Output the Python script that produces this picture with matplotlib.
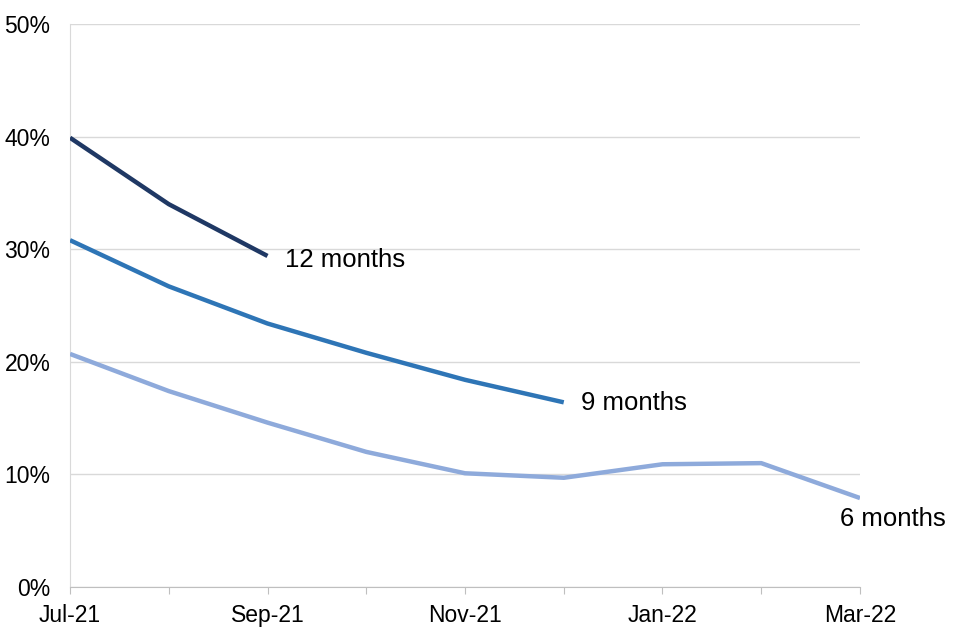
import matplotlib
matplotlib.use("Agg")
import matplotlib.pyplot as plt
from matplotlib.ticker import PercentFormatter

plt.rcParams['font.family'] = ['Liberation Sans', 'DejaVu Sans']

months = ['Jul-21', 'Aug-21', 'Sep-21', 'Oct-21', 'Nov-21', 'Dec-21', 'Jan-22', 'Feb-22', 'Mar-22']
six_months = [20.7, 17.4, 14.6, 12.0, 10.1, 9.7, 10.9, 11.0, 7.9]
nine_months = [30.8, 26.7, 23.4, 20.8, 18.4, 16.4]
twelve_months = [39.9, 34.0, 29.4]

series = [
    ('6 months', six_months, '#8eaadb'),
    ('9 months', nine_months, '#2e75b6'),
    ('12 months', twelve_months, '#1f3864'),
]

fig = plt.figure(figsize=(9.6, 6.4), dpi=100)
ax = fig.add_axes([70/960, 1 - 587/640, 790/960, 563/640])

x = list(range(len(months)))
for name, vals, col in series:
    ax.plot(x[:len(vals)], vals, color=col, lw=3.2, solid_capstyle='butt', zorder=3)

# end labels, placed right of / under the last point
ax.text(len(twelve_months) - 1 + 0.18, twelve_months[-1] - 0.4, '12 months', fontsize=18.5, va='center', ha='left')
ax.text(len(nine_months) - 1 + 0.17, nine_months[-1] - 0.1, '9 months', fontsize=18.5, va='center', ha='left')
ax.text(len(six_months) - 1 - 0.2, six_months[-1] - 1.9, '6 months', fontsize=18.5, va='center', ha='left')

ax.set_xlim(0, len(months) - 1)
ax.set_ylim(0, 50)
ax.set_yticks(range(0, 51, 10))
ax.yaxis.set_major_formatter(PercentFormatter(decimals=0))
ax.set_xticks(x)
ax.set_xticklabels([m if i % 2 == 0 else '' for i, m in enumerate(months)])

ax.grid(axis='y', color='#d9d9d9', lw=1)
ax.set_axisbelow(True)
for s in ['top', 'right']:
    ax.spines[s].set_visible(False)
ax.spines['left'].set_color('#d9d9d9')
ax.spines['bottom'].set_color('#bfbfbf')
ax.tick_params(axis='y', length=0, labelsize=16.5, pad=14)
ax.tick_params(axis='x', length=5, color='#bfbfbf', labelsize=16.5, pad=7)

fig.savefig('out.png', dpi=100)
